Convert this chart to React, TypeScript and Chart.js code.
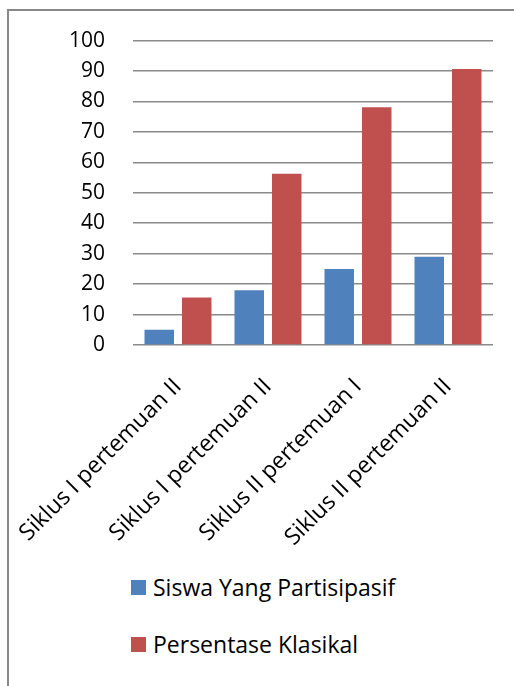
import React, { useEffect, useRef } from "react";
import { Chart, registerables } from "chart.js";

Chart.register(...registerables);

const categories = [
  "Siklus I pertemuan II",
  "Siklus I pertemuan II",
  "Siklus II pertemuan I",
  "Siklus II pertemuan II",
];
const seriesNames = ["Siswa Yang Partisipasif", "Persentase Klasikal"];
const siswaPartisipasif = [5, 18, 25, 29];
const persentaseKlasikal = [15.63, 56.25, 78.13, 90.63];
const yTicks = { min: 0, max: 100, step: 10 };

const BLUE = "#4F81BD";
const RED = "#C0504D";
const FONT = "'Open Sans', 'DejaVu Sans', sans-serif";

export default function App() {
  const ref = useRef<HTMLCanvasElement | null>(null);

  useEffect(() => {
    if (!ref.current) return;
    const chart = new Chart(ref.current, {
      type: "bar",
      data: {
        labels: categories,
        datasets: [
          {
            label: seriesNames[0],
            data: siswaPartisipasif,
            backgroundColor: BLUE,
            categoryPercentage: 0.833,
            barPercentage: 0.787,
          },
          {
            label: seriesNames[1],
            data: persentaseKlasikal,
            backgroundColor: RED,
            categoryPercentage: 0.833,
            barPercentage: 0.787,
          },
        ],
      },
      options: {
        responsive: false,
        animation: false,
        devicePixelRatio: 1,
        layout: { padding: { top: 39, right: 21, left: 0, bottom: 0 } },
        plugins: {
          legend: { display: false },
          tooltip: { enabled: false },
        },
        scales: {
          x: {
            grid: { display: false, drawTicks: false },
            border: { display: false },
            ticks: {
              autoSkip: false,
              minRotation: 45,
              maxRotation: 45,
              padding: 28,
              color: "#000",
              font: { family: FONT, size: 23 },
            },
            afterFit: (s: any) => {
              s.height = 215;
              s.paddingLeft = 0;
              s.paddingRight = 0;
            },
          },
          y: {
            min: yTicks.min,
            max: yTicks.max,
            grid: { color: "#8a8a8a", lineWidth: 1.5, drawTicks: false },
            border: { display: false },
            ticks: {
              stepSize: yTicks.step,
              padding: 28,
              color: "#000",
              font: { family: FONT, size: 21 },
            },
            afterFit: (s: any) => {
              s.width = 133;
            },
          },
        },
      },
    });
    return () => chart.destroy();
  }, []);

  const legendRow = (color: string, text: string, top: number) => (
    <div
      style={{
        position: "absolute",
        left: 131,
        top,
        display: "flex",
        alignItems: "center",
        height: 30,
      }}
    >
      <div style={{ width: 15, height: 15, background: color, marginRight: 7 }} />
      <span style={{ fontFamily: FONT, fontSize: 23, color: "#000", lineHeight: "30px" }}>
        {text}
      </span>
    </div>
  );

  return (
    <div
      style={{
        position: "fixed",
        left: 0,
        top: 0,
        width: 514,
        height: 686,
        overflow: "hidden",
        background: "#fff",
      }}
    >
      <div
        style={{
          position: "absolute",
          left: 7,
          top: 9,
          width: 640,
          height: 800,
          borderLeft: "2px solid #888",
          borderTop: "2px solid #888",
        }}
      />
      <canvas
        ref={ref}
        width={514}
        height={560}
        style={{ position: "absolute", left: 0, top: 0, width: 514, height: 560 }}
      />
      {legendRow(BLUE, seriesNames[0], 572)}
      {legendRow(RED, seriesNames[1], 629)}
    </div>
  );
}
